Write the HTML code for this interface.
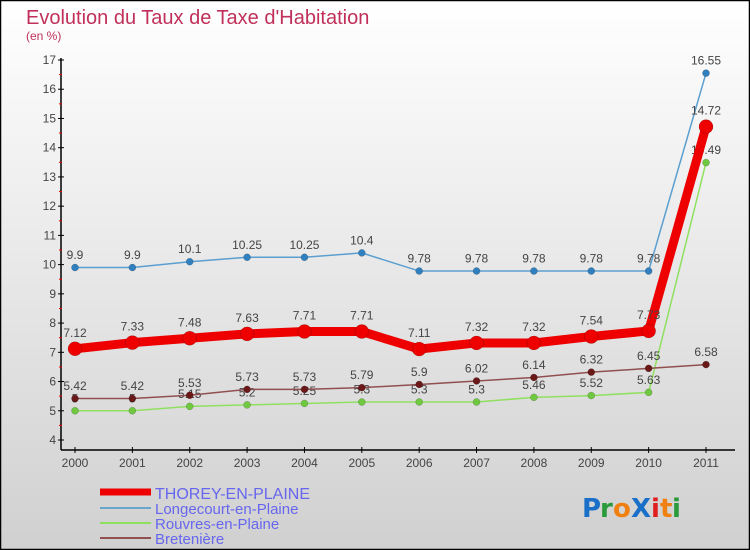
<!DOCTYPE html>
<html><head><meta charset="utf-8"><style>
html,body{margin:0;padding:0}
body{width:750px;height:550px;overflow:hidden;font-family:"Liberation Sans",sans-serif}
</style></head><body>
<svg id="chart" width="750" height="550" xmlns="http://www.w3.org/2000/svg" style="display:block">
<defs><linearGradient id="bg" x1="0" y1="0" x2="0" y2="1"><stop offset="0" stop-color="#ffffff"/><stop offset="1" stop-color="#d0d0d0"/></linearGradient></defs>
<rect x="0.5" y="0.5" width="749" height="549" fill="url(#bg)" stroke="#000" stroke-width="1.5"/>
<text x="26" y="24" font-size="20" fill="#c0305a">Evolution du Taux de Taxe d'Habitation</text>
<text x="26" y="40" font-size="12" fill="#c0305a">(en %)</text>
<g id="axes"></g><g id="series"></g><g id="legend"></g>
<g font-size="26" font-weight="bold" font-family="'DejaVu Sans',sans-serif">
<text x="582" y="517" fill="#1a70c8">P</text><text x="600" y="517" fill="#2a9a3a">r</text><text x="613" y="517" fill="#f08010">o</text><text x="631" y="517" fill="#1a70c8">X</text><text x="651" y="517" fill="#e02020">i</text><text x="660" y="517" fill="#f08010">t</text><text x="672" y="517" fill="#2a9a3a">i</text>
</g>
</svg>
<script>
const years=["2000","2001","2002","2003","2004","2005","2006","2007","2008","2009","2010","2011"];
const yTicks=[4,5,6,7,8,9,10,11,12,13,14,15,16,17];
const thorey=[7.12,7.33,7.48,7.63,7.71,7.71,7.11,7.32,7.32,7.54,7.73,14.72];
const longecourt=[9.9,9.9,10.1,10.25,10.25,10.4,9.78,9.78,9.78,9.78,9.78,16.55];
const rouvres=[5,5,5.15,5.2,5.25,5.3,5.3,5.3,5.46,5.52,5.63,13.49];
const bretaniere=[5.42,5.42,5.53,5.73,5.73,5.79,5.9,6.02,6.14,6.32,6.45,6.58];
const NS="http://www.w3.org/2000/svg";
const X=i=>75+i*(706-75)/11;
const Y=v=>440-(v-4)*(380/13);
function el(t,a,p){const e=document.createElementNS(NS,t);for(const k in a)e.setAttribute(k,a[k]);p.appendChild(e);return e;}
const ax=document.getElementById('axes');
let yl=el('line',{x1:61,y1:58,x2:61,y2:450,stroke:'#000','stroke-width':1.5},ax);


let xl=el('line',{x1:61,y1:450,x2:735,y2:450,stroke:'#000','stroke-width':1.5},ax);


yTicks.forEach(v=>{
 el('line',{x1:58,y1:Y(v),x2:64,y2:Y(v),stroke:'#000'},ax);
 if(v<17)el('line',{x1:59,y1:Y(v+0.5),x2:62,y2:Y(v+0.5),stroke:'#e00'},ax);
 const t=el('text',{x:56,y:Y(v)+4,'text-anchor':'end','font-size':12,fill:'#444'},ax);
 
 
 t.textContent=v;
});
years.forEach((y,i)=>{
 el('line',{x1:X(i),y1:447,x2:X(i),y2:453,stroke:'#000'},ax);
 const t=el('text',{x:X(i),y:467,'text-anchor':'middle','font-size':12,fill:'#444'},ax);
 
 
 t.textContent=y;
});
const sg=document.getElementById('series');
const defs=[
 {d:longecourt,c:'#5a9fd0',pc:'#3080c0',w:1.5,r:3.5,n:'longecourt'},
 {d:rouvres,c:'#90e060',pc:'#70c840',w:1.5,r:3.5,n:'rouvres'},
 {d:bretaniere,c:'#905050',pc:'#6a1818',w:1.5,r:3.5,n:'bretaniere'},
 {d:thorey,c:'#ee0000',pc:'#ee0000',w:9,r:7,n:'thorey'}
];
defs.forEach(s=>{
 const g=el('g',{},sg);
 
 
 const pl=el('polyline',{points:s.d.map((v,i)=>X(i)+','+Y(v)).join(' '),fill:'none',stroke:s.c,'stroke-width':s.w},g);
 
 
 s.d.forEach((v,i)=>{
  const c=el('circle',{cx:X(i),cy:Y(v),r:s.r,fill:s.pc,stroke:'rgba(0,0,0,0.3)','stroke-width':0.5},g);
  
  
  const t=el('text',{x:X(i),y:Y(v)-(s.r+5),'text-anchor':'middle','font-size':12,fill:'#444'},g);
  
  
  t.textContent=v;
 });
});
const lg=document.getElementById('legend');
const leg=[['THOREY-EN-PLAINE','#ee0000',7],['Longecourt-en-Plaine','#6aa5cc',2],['Rouvres-en-Plaine','#90e060',2],['Bretenière','#905050',2]];
leg.forEach((l,i)=>{
 const yy=493+i*15;
 const g=el('g',{},lg);
 
 
 el('line',{x1:100,y1:yy+(i==0?-1:0),x2:151,y2:yy+(i==0?-1:0),stroke:l[1],'stroke-width':l[2]},g);
 const t=el('text',{x:155,y:yy+6,'font-size':i==0?16:15,fill:'#6666ee'},g);
 t.textContent=l[0];
});
</script>
</body></html>
